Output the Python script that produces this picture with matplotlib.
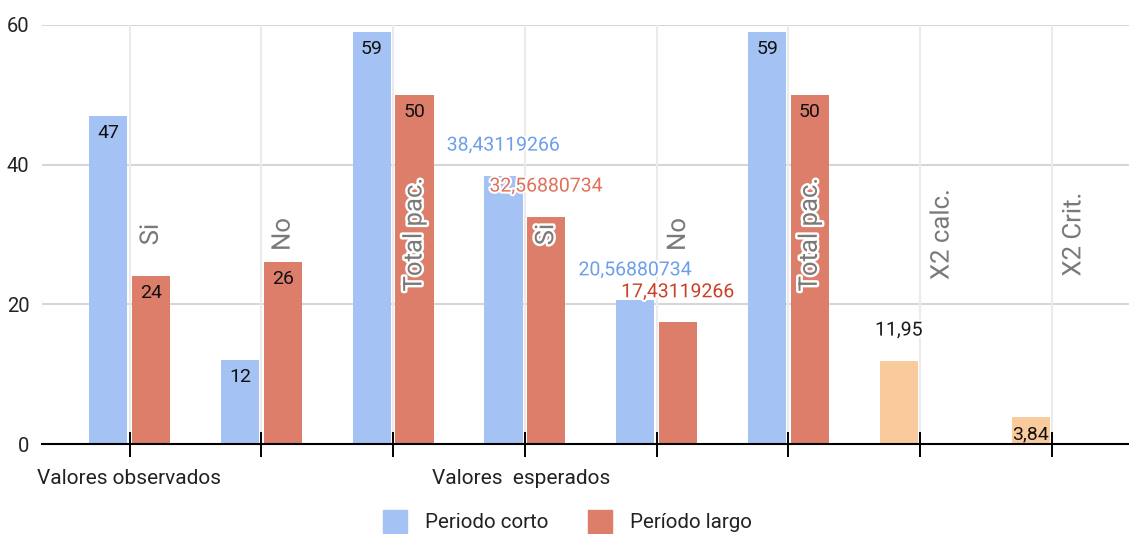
import matplotlib
matplotlib.use("Agg")
import matplotlib.pyplot as plt
import matplotlib.patheffects as pe
from matplotlib.patches import Rectangle

plt.rcParams['font.family'] = ['Roboto', 'DejaVu Sans']

# Inner categories, outer groups and the two series
categories = ["Si", "No", "Total pac.", "Si", "No", "Total pac.", "X2 calc.", "X2 Crit."]
groups = ["Valores observados", "Valores  esperados"]
group_start = [0, 3]
periodo_corto = [47, 12, 59, 38.43119266, 20.56880734, 59, 11.95, 3.84]
periodo_largo = [24, 26, 50, 32.56880734, 17.43119266, 50, None, None]
series_names = ["Periodo corto", "Período largo"]
y_ticks = [0, 20, 40, 60]

BLUE = "#a4c2f4"
RED = "#dd7e6b"
ORANGE = "#f9cb9c"
BLUE_TXT = "#6d9eeb"
RED_TXT = "#e0705a"
RED_TXT_DARK = "#cc4125"
GRAY_TXT = "#7a7a7a"

W, H = 1129, 534
fig = plt.figure(figsize=(W / 100, H / 100), dpi=100)
ax = fig.add_axes([42 / W, (H - 444) / H, 1 - 42 / W, (444 - 25) / H])

n = len(categories)
xs = list(range(n))
bw = 0.29
off = 0.162

blue_colors = [BLUE] * 6 + [ORANGE] * 2
ax.bar([x - off for x in xs], periodo_corto, width=bw, color=blue_colors, zorder=3)
largo_x = [x + off for x, v in zip(xs, periodo_largo) if v is not None]
largo_v = [v for v in periodo_largo if v is not None]
ax.bar(largo_x, largo_v, width=bw, color=RED, zorder=3)


def fmt(v):
    return str(v).replace('.', ',')


halo = [pe.withStroke(linewidth=3, foreground='white')]
px = 72 / 100  # pixels -> points


def label(x, v, inside, color):
    dy = -17 * px if inside else 30 * px
    ax.annotate(fmt(v), (x, v), xytext=(0, dy), textcoords='offset points',
                ha='center', va='center', fontsize=14, color=color,
                zorder=6, path_effects=halo if not inside else None)


outside_corto = {3: BLUE_TXT, 4: BLUE_TXT, 6: "#1a1a1a"}
outside_largo = {3: RED_TXT, 4: RED_TXT_DARK}
for i, v in enumerate(periodo_corto):
    if i in outside_corto:
        label(i - off, v, False, outside_corto[i])
    else:
        label(i - off, v, True, "#111111")
for i, v in enumerate(periodo_largo):
    if v is None:
        continue
    if i in outside_largo:
        label(i + off, v, False, outside_largo[i])
    else:
        label(i + off, v, True, "#111111")

# Inner category names, rotated inside the plot
for i, c in enumerate(categories):
    ax.text(i + off, 30, c, rotation=90, ha='center', va='center',
            fontsize=18.5, color=GRAY_TXT, zorder=5,
            path_effects=[pe.withStroke(linewidth=3.5, foreground='white')])

ax.set_xlim(-0.664, 7.584)
ax.set_ylim(0, 60)
ax.set_yticks(y_ticks)
ax.set_yticklabels([str(t) for t in y_ticks], fontsize=14.5, color="#222222")
ax.set_xticks(xs)
ax.set_xticklabels([])
ax.tick_params(axis='y', length=0, pad=9)
ax.tick_params(axis='x', direction='inout', length=18, width=1.4, color='black')

for s in ['left', 'right', 'top']:
    ax.spines[s].set_visible(False)
ax.spines['bottom'].set_color('black')
ax.spines['bottom'].set_linewidth(1.5)
ax.spines['bottom'].set_zorder(4)

for t in y_ticks[1:]:
    ax.axhline(t, color="#d6d6d6", lw=1.5, zorder=1)
for x in xs:
    ax.axvline(x, color="#ebebeb", lw=1.5, zorder=1)

# Outer group labels
for g, s in zip(groups, group_start):
    xpix = 129.5 + (s - 0.705) * 131.8
    fig.text(xpix / W, 1 - 478 / H, g, ha='left', va='center',
             fontsize=15, color="#222222")

# Legend along the bottom edge
for x0, name, col in [(383, series_names[0], BLUE), (588, series_names[1], RED)]:
    fig.patches.append(Rectangle((x0 / W, 0), 24 / W, (H - 510) / H,
                                 transform=fig.transFigure, color=col))
    fig.text((x0 + 42) / W, 1 - 523 / H, name, ha='left', va='center',
             fontsize=14.8, color="#222222")

fig.savefig("out.png", dpi=100)
